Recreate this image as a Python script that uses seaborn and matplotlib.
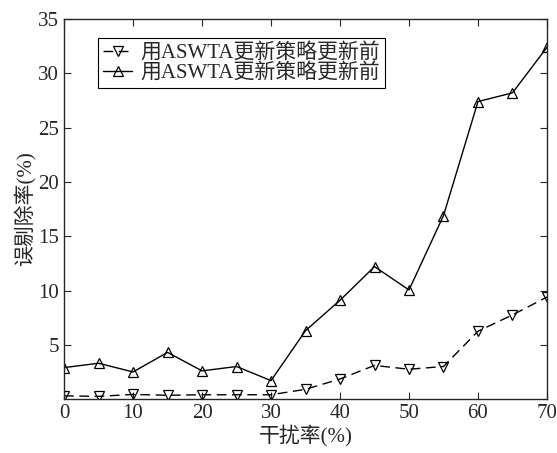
import matplotlib
matplotlib.use("Agg")
import matplotlib.pyplot as plt
import seaborn as sns
import pandas as pd

# data
rates = [0, 5, 10, 15, 20, 25, 30, 35, 40, 45, 50, 55, 60, 65, 70]
before_err = [0.3, 0.25, 0.43, 0.35, 0.4, 0.4, 0.4, 0.9, 1.85, 3.1, 2.75, 3.0, 6.25, 7.75, 9.4]
after_err = [2.9, 3.3, 2.5, 4.3, 2.6, 3.0, 1.7, 6.3, 9.1, 12.2, 10.05, 16.9, 27.4, 28.2, 32.4]
labels = ["用ASWTA更新策略更新前", "用ASWTA更新策略更新前"]
x_ticks = [0, 10, 20, 30, 40, 50, 60, 70]
y_ticks = [5, 10, 15, 20, 25, 30, 35]

df = pd.DataFrame({"rate": rates, "before": before_err, "after": after_err})

sns.set_style("ticks")
plt.rcParams["font.family"] = ["Liberation Serif", "Noto Sans CJK SC"]

fig = plt.figure(figsize=(5.57, 4.53), dpi=100)
ax = fig.add_axes([0.115, 0.119, 0.867, 0.839])

sns.lineplot(data=df, x="rate", y="before", ax=ax, color="black",
             marker="v", markersize=7.5, mfc="none", mec="black", mew=0.9,
             linewidth=1.0, label=labels[0], dashes=False)
ax.lines[-1].set_dashes([7, 4])
sns.lineplot(data=df, x="rate", y="after", ax=ax, color="black", linestyle="-",
             marker="^", markersize=7.5, mfc="none", mec="black", mew=0.9,
             linewidth=1.0, label=labels[1])

ax.set_xlim(0, 70)
ax.set_ylim(0, 35)
ax.set_xticks(x_ticks)
ax.set_yticks(y_ticks)
ax.tick_params(direction="in", top=True, right=True, labelsize=15, length=5, width=0.8)
for s in ax.spines.values():
    s.set_linewidth(1.0)
    s.set_visible(True)

ax.set_xlabel("干扰率(%)", fontsize=15, labelpad=1)
ax.set_ylabel("误剔除率(%)", fontsize=15, labelpad=2)

leg = ax.legend(loc="upper left", bbox_to_anchor=(0.07, 0.95), fontsize=15,
                frameon=True, fancybox=False, edgecolor="black", framealpha=1,
                handlelength=1.4, handletextpad=0.4, borderpad=0.25, labelspacing=0.0,
                borderaxespad=0)
leg.get_frame().set_linewidth(0.8)

fig.savefig("out.png", dpi=100)
